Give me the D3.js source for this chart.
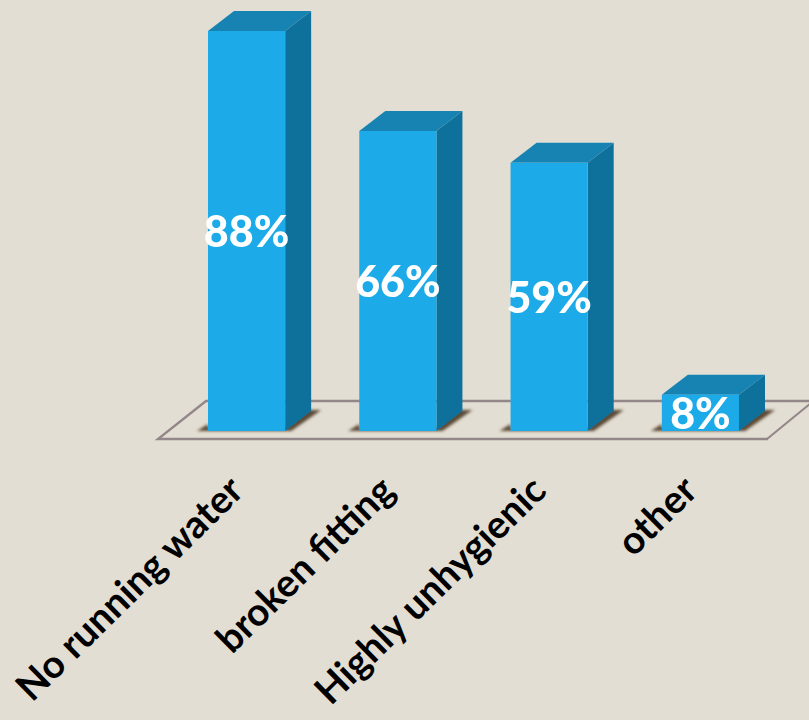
<!DOCTYPE html>
<html><head><meta charset="utf-8">
<script src="https://cdn.jsdelivr.net/npm/d3@7/dist/d3.min.js"></script>
<style>html,body{margin:0;padding:0;background:#e3ded3;overflow:hidden}svg{display:block}</style>
</head><body><div id="c"></div>
<script>
const categories = ["No running water","broken fitting","Highly unhygienic","other"];
const values = [88,66,59,8];
const W=809,H=720,depthX=26,depthY=20;
const x=d3.scaleBand().domain(categories).range([208,739]).paddingInner(0.49).paddingOuter(0);
const y=d3.scaleLinear().domain([0,88]).range([431,31]);
const svg=d3.select("#c").append("svg").attr("width",W).attr("height",H);
svg.append("rect").attr("width",W).attr("height",H).attr("fill","#e3ded3");
const defs=svg.append("defs");
defs.append("filter").attr("id","sh").attr("x","-30%").attr("y","-60%").attr("width","160%").attr("height","220%")
  .append("feGaussianBlur").attr("stdDeviation",1.5);
defs.append("filter").attr("id","soft").attr("x","-5%").attr("y","-5%").attr("width","110%").attr("height","110%")
  .append("feGaussianBlur").attr("stdDeviation",0.45);
const g0=svg.append("g").attr("filter","url(#soft)");
// floor plane
const by=y(0);
const floor=d3.path();
floor.moveTo(x.range()[1]+29,by+8);floor.lineTo(158,by+8);floor.lineTo(x.range()[0]-2,by-30);floor.lineTo(W+2,by-30);
const floorR=d3.path();
floorR.moveTo(x.range()[1]+28,by+8);floorR.lineTo(W+2,by-28);
g0.append("path").attr("d",floor.toString()).attr("fill","none").attr("stroke","#94878a").attr("stroke-width",2.4);
g0.append("path").attr("d",floorR.toString()).attr("fill","none").attr("stroke","#94878a").attr("stroke-width",2.2);
const bars=g0.selectAll("g.bar").data(categories.map((c,i)=>({c,v:values[i]}))).join("g").attr("class","bar");
// ground shadow
bars.append("path").attr("filter","url(#sh)").attr("fill","#5a4834")
 .attr("d",d=>{const l=x(d.c),r=l+x.bandwidth();
   return `M${l-11},${by} L${r+6},${by} L${r+depthX+10},${by-depthY-1} L${r+depthX-3},${by-depthY-1} L${r},${by-3} L${l},${by-3} L${l},${by-7}Z`;});
// top face
bars.append("path").attr("fill","#1783b2")
 .attr("d",d=>{const l=x(d.c),r=l+x.bandwidth(),t=y(d.v);
   return `M${l},${t} L${l+depthX},${t-depthY} L${r+depthX},${t-depthY} L${r},${t}Z`;});
// side face
bars.append("path").attr("fill","#10719c")
 .attr("d",d=>{const r=x(d.c)+x.bandwidth(),t=y(d.v);
   return `M${r},${t} L${r+depthX},${t-depthY} L${r+depthX},${by-depthY} L${r},${by}Z`;});
// front face
bars.append("rect").attr("fill","#1aabe8")
 .attr("x",d=>x(d.c)).attr("y",d=>y(d.v)).attr("width",x.bandwidth()).attr("height",d=>by-y(d.v));
// value labels
svg.selectAll("text.v").data(categories.map((c,i)=>({c,v:values[i]}))).join("text").attr("class","v")
 .attr("x",d=>x(d.c)+x.bandwidth()/2).attr("y",d=>(y(d.v)+by)/2+16)
 .attr("text-anchor","middle").attr("fill","#fff")
 .style("font","900 43px Lato, sans-serif").text(d=>d.v+"%");
// category labels
svg.selectAll("text.c").data(categories).join("text").attr("class","c")
 .attr("transform",d=>`translate(${x(d)+x.bandwidth()/2-1},${493}) rotate(-44.5)`)
 .attr("text-anchor","end").attr("fill","#000")
 .style("font","700 38.5px Lato, sans-serif").text(d=>d);
</script></body></html>
